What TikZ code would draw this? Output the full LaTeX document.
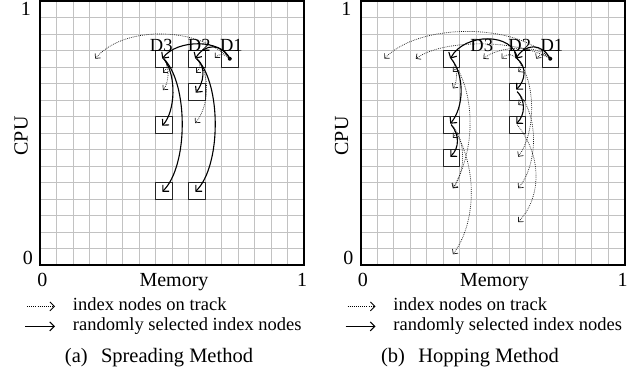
\documentclass[tikz,border=0pt]{standalone}
\usepackage{fontspec}
\setmainfont{Liberation Serif}
\usetikzlibrary{arrows.meta}

\tikzset{
  gridline/.style={draw=black!24, line width=0.7pt},
  frame/.style={draw=black, line width=2pt},
  cell/.style={draw=black!85, line width=0.9pt, minimum size=16.5pt, inner sep=0pt},
  hop/.style={draw=black, line width=1.1pt, -{Straight Barb[length=4.5pt,width=9pt,line width=1.1pt]}},
  trk/.style={draw=black!90, line width=0.7pt, dash pattern=on 0.8pt off 1.1pt, -{Straight Barb[length=3.5pt,width=7pt,line width=0.7pt]}},
  legtrk/.style={draw=black, line width=0.8pt, dash pattern=on 0.8pt off 1.3pt, -{Straight Barb[length=4.5pt,width=9pt,line width=0.9pt]}},
  leghop/.style={draw=black, line width=1pt, -{Straight Barb[length=4.5pt,width=9pt,line width=1pt]}},
  lbl/.style={font=\fontsize{18.5}{20}\selectfont, inner sep=0pt},
  axlbl/.style={font=\fontsize{20}{22}\selectfont, inner sep=0pt},
  captext/.style={font=\fontsize{20.5}{22}\selectfont, inner sep=0pt},
}

\begin{document}
\begin{tikzpicture}[x=1pt,y=1pt]
\useasboundingbox (0,0) rectangle (637,377);

% ---------------- (a) Spreading Method ----------------
\begin{scope}[shift={(40,112)}, x=16.5pt, y=16.5pt]
  \foreach \i in {1,...,15} {
    \draw[gridline] (\i,0) -- (\i,16);
    \draw[gridline] (0,\i) -- (16,\i);
  }
  \draw[frame] (0,0) rectangle (16,16);

  \node[axlbl, anchor=base] (a-y1) at (-0.85,15.12) {1};
  \node[axlbl, anchor=base] (a-y0) at (-0.73,0.05) {0};
  \node[axlbl, anchor=base] (a-x0) at (0.15,-1.32) {0};
  \node[axlbl, anchor=base] (a-x1) at (15.88,-1.32) {1};
  \node[axlbl, anchor=base] (a-xl) at (8.12,-1.32) {Memory};
  \node[axlbl, rotate=90] (a-yl) at (-1.15,7.82) {CPU};

  \node[cell] (a-d1) at (11.5,12.5) {};
  \node[cell] (a-d2) at (9.5,12.5) {};
  \node[cell] (a-d3) at (7.5,12.5) {};
  \node[cell] (a-p1) at (7.5,8.5) {};
  \node[cell] (a-p2) at (7.5,4.5) {};
  \node[cell] (a-q1) at (9.5,10.5) {};
  \node[cell] (a-q2) at (9.5,4.5) {};
  \fill (a-d1.center) circle (2pt);

  \node[lbl, anchor=base] (a-l3) at (7.35,12.93) {D3};
  \node[lbl, anchor=base] (a-l2) at (9.65,12.93) {D2};
  \node[lbl, anchor=base] (a-l1) at (11.6,12.93) {D1};

  % index nodes on track
  \coordinate (a-t1) at (10.6,12.55);
  \coordinate (a-t2) at (3.35,12.5);
  \coordinate (a-t3) at (9.45,11.65);
  \coordinate (a-t4) at (9.4,8.6);
  \coordinate (a-t5) at (7.45,11.65);
  \coordinate (a-t6) at (7.45,10.6);
  \draw[trk] (a-d1.center) .. controls (11.2,12.8) and (10.9,12.85) .. (a-t1);
  \draw[trk] (a-d1.center) .. controls (9.5,14.5) and (5.0,14.5) .. (a-t2);
  \draw[trk] (a-d2.center) .. controls (9.8,12.2) and (9.7,11.9) .. (a-t3);
  \draw[trk] (a-d2.center) .. controls (10.4,11.5) and (10.2,9.5) .. (a-t4);
  \draw[trk] (a-d3.center) .. controls (7.8,12.2) and (7.7,11.9) .. (a-t5);
  \draw[trk] (a-d3.center) .. controls (7.9,12.0) and (7.8,11.0) .. (a-t6);

  % randomly selected index nodes
  \draw[hop] (a-d1.center) .. controls (11.0,13.45) and (10.0,13.45) .. ([xshift=-1.5pt]a-d2.center);
  \draw[hop] (a-d1.center) .. controls (11.0,13.7) and (8.3,13.7) .. ([xshift=-1.5pt]a-d3.center);
  \draw[hop] (a-d2.center) .. controls (10.1,12.0) and (9.9,11.0) .. ([xshift=-1pt,yshift=-1pt]a-q1.center);
  \draw[hop] (a-d2.center) .. controls (11.0,11.0) and (11.0,6.0) .. ([xshift=-1.5pt,yshift=-1pt]a-q2.center);
  \draw[hop] (a-d3.center) .. controls (8.3,11.5) and (8.2,9.3) .. ([xshift=-1.5pt,yshift=-1pt]a-p1.center);
  \draw[hop] (a-d3.center) .. controls (9.0,11.0) and (9.0,6.0) .. ([xshift=-1.5pt,yshift=-1pt]a-p2.center);
\end{scope}

% legend and caption (a)
\coordinate (la-s1) at (27,70.6);  \coordinate (la-e1) at (55,70.6);
\coordinate (la-s2) at (25,50.6);  \coordinate (la-e2) at (55,50.6);
\draw[legtrk] (la-s1) -- (la-e1);
\draw[leghop] (la-s2) -- (la-e2);
\node[lbl, anchor=base west] (la-x1) at (72.7,66) {index nodes on track};
\node[lbl, anchor=base west] (la-x2) at (72.7,46) {randomly selected index nodes};
\node[captext, anchor=base] (la-cap) at (159,14) {(a)\hspace{0.65em}Spreading Method};

% ---------------- (b) Hopping Method ----------------
\begin{scope}[shift={(360.5,112)}, x=16.5pt, y=16.5pt]
  \foreach \i in {1,...,15} {
    \draw[gridline] (\i,0) -- (\i,16);
    \draw[gridline] (0,\i) -- (16,\i);
  }
  \draw[frame] (0,0) rectangle (16,16);

  \node[axlbl, anchor=base] (b-y1) at (-0.85,15.12) {1};
  \node[axlbl, anchor=base] (b-y0) at (-0.73,0.05) {0};
  \node[axlbl, anchor=base] (b-x0) at (0.15,-1.32) {0};
  \node[axlbl, anchor=base] (b-x1) at (15.88,-1.32) {1};
  \node[axlbl, anchor=base] (b-xl) at (8.12,-1.32) {Memory};
  \node[axlbl, rotate=90] (b-yl) at (-1.15,7.82) {CPU};

  \node[cell] (b-d1) at (11.5,12.5) {};
  \node[cell] (b-d2) at (9.5,12.5) {};
  \node[cell] (b-d3) at (5.5,12.5) {};
  \node[cell] (b-p1) at (5.5,8.5) {};
  \node[cell] (b-p2) at (5.5,6.5) {};
  \node[cell] (b-q1) at (9.5,10.5) {};
  \node[cell] (b-q2) at (9.5,8.5) {};
  \fill (b-d1.center) circle (2pt);

  \node[lbl, anchor=base] (b-l3) at (7.35,12.93) {D3};
  \node[lbl, anchor=base] (b-l2) at (9.65,12.93) {D2};
  \node[lbl, anchor=base] (b-l1) at (11.6,12.93) {D1};

  % index nodes on track
  \coordinate (b-t1) at (10.65,12.5);
  \coordinate (b-t2) at (8.55,12.5);
  \coordinate (b-t3) at (7.45,12.5);
  \coordinate (b-t4) at (3.35,12.5);
  \coordinate (b-t5) at (1.45,12.5);
  \coordinate (b-t6) at (5.6,11.7);
  \coordinate (b-t7) at (5.6,10.7);
  \coordinate (b-t8) at (5.6,7.7);
  \coordinate (b-t9) at (5.6,4.65);
  \coordinate (b-t10) at (5.6,0.65);
  \coordinate (b-t11) at (9.56,11.7);
  \coordinate (b-t12) at (9.56,9.7);
  \coordinate (b-t13) at (9.56,6.56);
  \coordinate (b-t14) at (9.56,4.65);
  \coordinate (b-t15) at (9.56,2.6);
  \draw[trk] (b-d1.center) .. controls (11.2,12.8) and (10.9,12.85) .. (b-t1);
  \draw[trk] (b-d2.center) .. controls (9.2,12.8) and (8.9,12.85) .. (b-t2);
  \draw[trk] (b-d1.center) .. controls (10.8,13.4) and (8.4,13.3) .. (b-t3);
  \draw[trk] (b-d1.center) .. controls (9.5,13.7) and (5.0,13.7) .. (b-t4);
  \draw[trk] (b-d1.center) .. controls (9.5,14.7) and (3.5,14.7) .. (b-t5);
  \draw[trk] (b-d3.center) .. controls (5.8,12.2) and (5.8,11.9) .. (b-t6);
  \draw[trk] (b-d3.center) .. controls (5.9,12.0) and (5.9,11.1) .. (b-t7);
  \draw[trk] (b-p1.center) .. controls (5.8,8.2) and (5.8,7.9) .. (b-t8);
  \draw[trk] (b-d3.center) .. controls (7.0,10.5) and (7.0,7.0) .. (b-t9);
  \draw[trk] (b-p1.center) .. controls (6.5,7.5) and (6.3,5.5) .. (b-t9);
  \draw[trk] (b-p1.center) .. controls (7.2,6.0) and (7.0,2.5) .. (b-t10);
  \draw[trk] (b-d2.center) .. controls (9.8,12.2) and (9.8,11.9) .. (b-t11);
  \draw[trk] (b-q1.center) .. controls (9.8,10.2) and (9.8,9.9) .. (b-t12);
  \draw[trk] (b-d2.center) .. controls (10.7,11.0) and (10.6,8.0) .. (b-t13);
  \draw[trk] (b-q1.center) .. controls (10.9,9.0) and (10.7,6.0) .. (b-t14);
  \draw[trk] (b-q2.center) .. controls (11.1,6.5) and (10.9,4.0) .. (b-t15);

  % randomly selected index nodes
  \draw[hop] (b-d1.center) .. controls (11.0,13.45) and (10.0,13.45) .. ([xshift=-1.5pt]b-d2.center);
  \draw[hop] (b-d2.center) .. controls (9.3,14.1) and (6.3,14.1) .. ([xshift=-1pt]b-d3.center);
  \draw[hop] (b-d3.center) .. controls (6.3,11.5) and (6.3,9.6) .. ([xshift=-1pt,yshift=1pt]b-p1.center);
  \draw[hop] (b-p1.center) .. controls (6.0,7.9) and (6.0,7.1) .. ([xshift=-1pt,yshift=1pt]b-p2.center);
  \draw[hop] (b-d2.center) .. controls (10.1,12.0) and (10.0,11.2) .. ([xshift=-1pt,yshift=2pt]b-q1.center);
  \draw[hop] (b-q1.center) .. controls (10.0,10.0) and (10.0,9.1) .. ([xshift=-1pt,yshift=1pt]b-q2.center);
\end{scope}

% legend and caption (b)
\coordinate (lb-s1) at (347.5,70.6);  \coordinate (lb-e1) at (375.5,70.6);
\coordinate (lb-s2) at (345.5,50.6);  \coordinate (lb-e2) at (375.5,50.6);
\draw[legtrk] (lb-s1) -- (lb-e1);
\draw[leghop] (lb-s2) -- (lb-e2);
\node[lbl, anchor=base west] (lb-x1) at (393.2,66) {index nodes on track};
\node[lbl, anchor=base west] (lb-x2) at (393.2,46) {randomly selected index nodes};
\node[captext, anchor=base] (lb-cap) at (470,14) {(b)\hspace{0.65em}Hopping Method};
\end{tikzpicture}
\end{document}
